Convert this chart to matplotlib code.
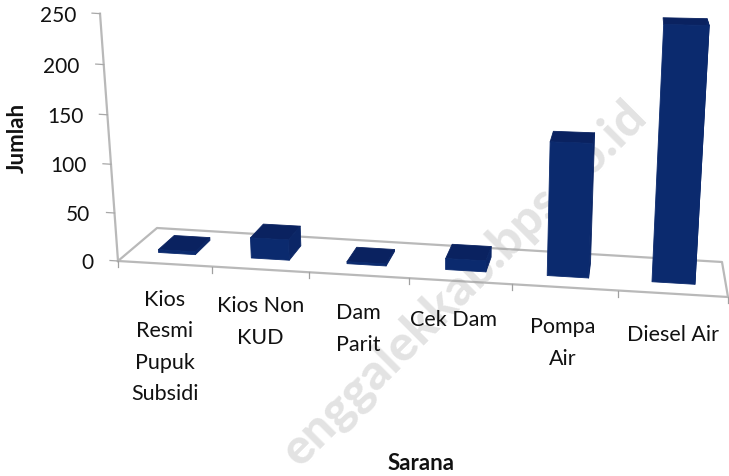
#!/usr/bin/env python3
# -*- coding: utf-8 -*-

import numpy as np
import matplotlib
matplotlib.use("Agg")
import matplotlib.pyplot as plt

plt.rcParams["font.family"] = ["Lato", "DejaVu Sans"]

categories = ["Kios\nResmi\nPupuk\nSubsidi", "Kios Non\nKUD", "Dam\nParit",
              "Cek Dam", "Pompa\nAir", "Diesel Air"]
values = [3, 21, 2, 11, 130, 242]
y_ticks = [0, 50, 100, 150, 200, 250]

# screen calibration of the 3d floor
FRONT_L, FRONT_R = np.array([118.0, 262.0]), np.array([728.0, 298.0])
BACK_L, BACK_R = np.array([157.0, 229.0]), np.array([722.0, 263.0])
FRONT_TICKS = [118, 212, 309, 409, 512, 618, 728]
VANISH = np.array([447.0, 4790.0])


def project(x, z, v):
    # x: category position, z: 0 front .. 1 back, v: data value
    t = (np.interp(x, range(7), FRONT_TICKS) - FRONT_TICKS[0]) / (FRONT_TICKS[-1] - FRONT_TICKS[0])
    front = FRONT_L + (FRONT_R - FRONT_L) * t
    back = BACK_L + (BACK_R - BACK_L) * t
    floor = front + (back - front) * z
    lift = v * (0.9553 + 0.000147 * v) * (1 + 0.0185 * x) * (1 - 0.072 * z)
    up = (floor - VANISH) / np.linalg.norm(floor - VANISH)
    return tuple(floor + up * lift)


def face(ax, pts, color):
    xy = [project(*p) for p in pts]
    ax.fill([q[0] for q in xy], [q[1] for q in xy], color=color, lw=0.6, zorder=3, joinstyle="round")


def draw_bar(ax, i, v):
    x0, x1 = i + 0.31, i + 0.71
    z0, z1 = 0.31, 0.74
    face(ax, [(x0, z1, v), (x1, z1, v), (x1, z0, v), (x0, z0, v)], "#0a2260")
    face(ax, [(x1, z0, 0), (x1, z1, 0), (x1, z1, v), (x1, z0, v)], "#0b2666")
    face(ax, [(x0, z0, 0), (x1, z0, 0), (x1, z0, v), (x0, z0, v)], "#0b2a6e")


def main():
    fig = plt.figure(figsize=(7.29, 4.77), dpi=100)
    ax = fig.add_axes([0, 0, 1, 1])
    ax.set_xlim(0, 729)
    ax.set_ylim(477, 0)
    ax.axis("off")

    grey = "#b9b9b9"
    corners = [(0, 0, 0), (6, 0, 0), (6, 1, 0), (0, 1, 0), (0, 0, 0)]
    ax.plot(*zip(*[project(*c) for c in corners]), color=grey, lw=1.6, zorder=1)
    ax.plot(*zip(*[project(0, 0, t) for t in y_ticks]), color=grey, lw=1.6, zorder=1)

    for t in y_ticks:
        px, py = project(0, 0, t)
        ax.plot([px - 8, px], [py - 0.5, py], color="#a8a8a8", lw=0.9, zorder=1)
        ax.text(px - 24, py + 1, str(t), ha="right", va="center", fontsize=15, color="#111111")

    for i in range(len(categories) + 1):
        px, py = project(i, 0, 0)
        ax.plot([px, px], [py, py + 6], color="#a0a0a0", lw=0.9, zorder=1)

    label_dx = [0, 0, -1, -7, -2, 0]
    for i, (name, v) in enumerate(zip(categories, values)):
        draw_bar(ax, i, v)
        px, py = project(i + 0.5, 0, 0)
        ax.text(px + label_dx[i], py + 25 + i, name, ha="center", va="top", fontsize=15.5,
                linespacing=1.72, color="#111111", zorder=6)

    ax.text(17, 138, "Jumlah", rotation=90, ha="center", va="center", fontsize=16,
            fontweight="bold", color="#111111", zorder=6)
    ax.text(421, 464, "Sarana", ha="center", va="center", fontsize=16,
            fontweight="bold", color="#111111", zorder=6)

    # site watermark, sits behind the bars
    ax.text(464, 283, "enggalekkab.bps.go.id", rotation=45, ha="center", va="center",
            rotation_mode="anchor", fontsize=36, fontweight="black", color="#9a9a9a",
            alpha=0.28, zorder=2)

    fig.savefig("out.png", dpi=100)
    plt.close(fig)


if __name__ == "__main__":
    main()
